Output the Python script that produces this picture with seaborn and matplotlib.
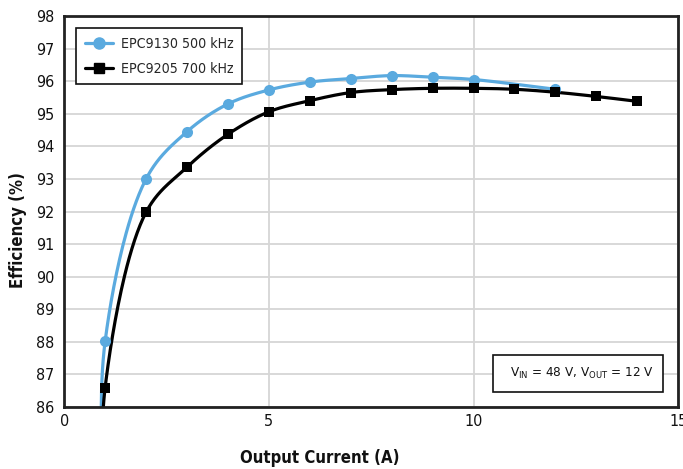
import numpy as np
import pandas as pd
import matplotlib
matplotlib.use('Agg')
import matplotlib.pyplot as plt
from matplotlib.lines import Line2D
from matplotlib.patches import Rectangle
import seaborn as sns

# Data (first point of each set lies below the axis)
epc9130_current = [0.96, 1, 2, 3, 4, 5, 6, 7, 8, 9, 10, 12]
epc9130_eff = [82.0, 88.02, 93.0, 94.45, 95.3, 95.73, 95.97, 96.08, 96.17, 96.12, 96.05, 95.75]
epc9205_current = [0.97, 1, 2, 3, 4, 5, 6, 7, 8, 9, 10, 11, 12, 13, 14]
epc9205_eff = [82.0, 86.6, 91.98, 93.36, 94.37, 95.06, 95.4, 95.65, 95.74, 95.78, 95.78, 95.75, 95.66, 95.53, 95.38]

x_ticks = [0, 5, 10, 15]
y_ticks = list(range(86, 99))

blue = '#5AAADF'
black = '#000000'
XSCALE = 1.255  # pixels per x unit / pixels per y unit


def smooth(xs, ys, n=40, alpha=0.5):
    # centripetal Catmull-Rom through the points (in screen-like proportions)
    p = np.column_stack([np.array(xs) * XSCALE, ys]).astype(float)
    p = np.vstack([2 * p[0] - p[1], p, 2 * p[-1] - p[-2]])
    t = np.linspace(0, 1, n)[:, None]
    out = []
    for i in range(1, len(p) - 2):
        p0, p1, p2, p3 = p[i - 1], p[i], p[i + 1], p[i + 2]
        d01 = np.linalg.norm(p1 - p0) ** alpha
        d12 = np.linalg.norm(p2 - p1) ** alpha
        d23 = np.linalg.norm(p3 - p2) ** alpha
        m1 = ((p1 - p0) / d01 - (p2 - p0) / (d01 + d12) + (p2 - p1) / d12) * d12
        m2 = ((p2 - p1) / d12 - (p3 - p1) / (d12 + d23) + (p3 - p2) / d23) * d12
        h00 = 2 * t**3 - 3 * t**2 + 1
        h10 = t**3 - 2 * t**2 + t
        h01 = -2 * t**3 + 3 * t**2
        h11 = t**3 - t**2
        out.append(h00 * p1 + h10 * m1 + h01 * p2 + h11 * m2)
    seg = np.vstack(out)
    return seg[:, 0] / XSCALE, seg[:, 1]


sns.set_theme(style='whitegrid')
plt.rcParams['font.family'] = ['DejaVu Sans']
plt.rcParams['font.stretch'] = 'condensed'
plt.rcParams['mathtext.default'] = 'regular'

fig = plt.figure(figsize=(6.83, 4.69), dpi=100)
ax = fig.add_axes([0.094, 0.132, 0.899, 0.834])

sx, sy = smooth(epc9130_current, epc9130_eff)
sns.lineplot(x=sx, y=sy, ax=ax, color=blue, linewidth=2.3, sort=False, estimator=None)
sns.scatterplot(x=epc9130_current, y=epc9130_eff, ax=ax, color=blue, marker='o', s=64,
                edgecolor=blue, linewidth=0, zorder=3)

sx, sy = smooth(epc9205_current, epc9205_eff)
sns.lineplot(x=sx, y=sy, ax=ax, color=black, linewidth=2.3, sort=False, estimator=None)
sns.scatterplot(x=epc9205_current, y=epc9205_eff, ax=ax, color=black, marker='s', s=52,
                edgecolor=black, linewidth=0, zorder=3)

ax.set_xlim(0, 15)
ax.set_ylim(86, 98)
ax.set_xticks(x_ticks)
ax.set_yticks(y_ticks)
ax.grid(True, color='#d6d6d6', linewidth=1.3)
for s in ax.spines.values():
    s.set_color('#222222')
    s.set_linewidth(2)
ax.tick_params(axis='both', labelsize=11.5, colors='#111111', length=0)
ax.tick_params(axis='y', pad=7)
ax.tick_params(axis='x', pad=5)
ax.set_xlabel('Output Current (A)', fontsize=12, fontweight='bold', color='#111111')
ax.set_ylabel('Efficiency (%)', fontsize=12, fontweight='bold', color='#111111')
ax.xaxis.set_label_coords(0.417, -0.108)
ax.yaxis.set_label_coords(-0.06, 0.453)

handles = [
    Line2D([0], [0], color=blue, linewidth=2.3, marker='o', markersize=8),
    Line2D([0], [0], color=black, linewidth=2.3, marker='s', markersize=7.2),
]
leg = ax.legend(handles, ['EPC9130 500 kHz', 'EPC9205 700 kHz'], loc='upper left',
                bbox_to_anchor=(0.0195, 0.969), borderaxespad=0, fontsize=10.2,
                frameon=True, fancybox=False, framealpha=1, edgecolor='#111111',
                handlelength=2.0, borderpad=0.6, labelspacing=0.8, handletextpad=0.55)
leg.get_frame().set_linewidth(1.2)

ax.add_patch(Rectangle((0.699, 0.039), 0.277, 0.094, transform=ax.transAxes,
                       facecolor='white', edgecolor='#111111', linewidth=1.2, zorder=5))
ax.text(0.9593, 0.087, r'V$_{IN}$ = 48 V, V$_{OUT}$ = 12 V', transform=ax.transAxes,
        ha='right', va='center', fontsize=9.6, color='#111111', zorder=6)

fig.savefig('out.png', dpi=100)
